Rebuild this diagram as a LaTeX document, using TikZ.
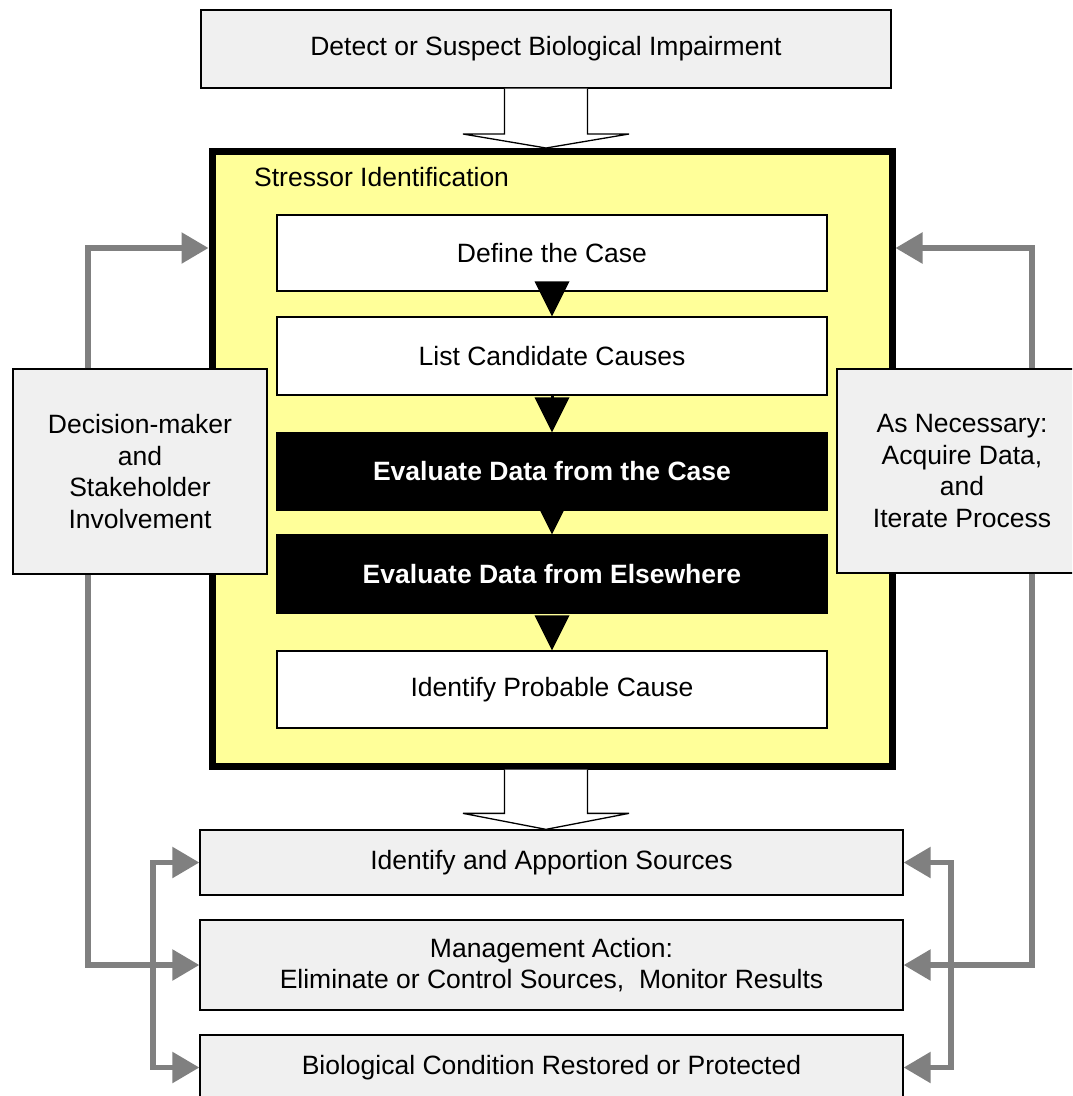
\documentclass[tikz,border=0pt]{standalone}
\usepackage{fontspec}
\setmainfont{Liberation Sans}
\usetikzlibrary{arrows.meta,calc}
\definecolor{boxgray}{RGB}{240,240,240}
\definecolor{siyellow}{RGB}{255,255,153}
\definecolor{conngray}{RGB}{128,128,128}
\begin{document}
\begin{tikzpicture}[x=1pt,y=-1pt,
  every node/.style={font=\fontsize{26.5}{31.8}\selectfont, inner sep=0pt, align=center},
  outerbox/.style={draw=black, line width=1.3pt, fill=boxgray, rectangle},
  stepbox/.style={draw=black, line width=1.3pt, fill=white, minimum width=550pt},
  darkbox/.style={draw=black, line width=1.3pt, fill=black, text=white, font=\fontsize{26.5}{31.8}\selectfont\bfseries, minimum width=550pt},
  garrow/.style={draw=conngray, line width=5.5pt, -{Triangle[length=27pt,width=30pt]}},
  gboth/.style={draw=conngray, line width=5.5pt, {Triangle[length=27pt,width=30pt]}-{Triangle[length=27pt,width=30pt]}},
  hollow/.style={draw=black, line width=1.3pt, fill=white, line join=miter},
  tri/.style={fill=black}
]
\path[use as bounding box, clip] (0,0) rectangle (1072,1096);
\fill[white] (0,0) rectangle (1072,1096);

% boxes
\node[outerbox, minimum width=690pt, minimum height=78pt] (top) at (546,49) {Detect or Suspect Biological Impairment};
\node[draw=black, line width=7pt, fill=siyellow, minimum width=680pt, minimum height=614.5pt] (si) at (552,458.75) {};
\node[anchor=base west] (silabel) at (254,186) {Stressor Identification};
\node[stepbox, minimum height=76pt] (define) at (552,253) {Define the Case};
\node[stepbox, minimum height=78pt] (list) at (552,356) {List Candidate Causes};
\node[darkbox, minimum height=77pt] (evcase) at (552,471.5) {Evaluate Data from the Case};
\node[darkbox, minimum height=78pt] (evelse) at (552,574) {Evaluate Data from Elsewhere};
\node[stepbox, minimum height=77pt] (prob) at (552,689.5) {Identify Probable Cause};
\node[outerbox, minimum width=703pt, minimum height=65pt] (sources) at (551.5,862.5) {Identify and Apportion Sources};
\node[outerbox, minimum width=703pt, minimum height=90pt] (mgmt) at (551.5,965) {Management Action:\\Eliminate or Control Sources,\ \ Monitor Results};
\node[outerbox, minimum width=703pt, minimum height=65pt] (bio) at (551.5,1067.5) {Biological Condition Restored or Protected};
\node[outerbox, minimum width=254pt, minimum height=205pt] (dm) at (140,471.5) {Decision-maker\\and\\Stakeholder\\Involvement};
\node[outerbox, minimum width=250pt, minimum height=204pt] (asnec) at (962,471) {As Necessary:\\Acquire Data,\\and\\Iterate Process};

% hollow block arrows
\draw[hollow] ($(top.south)+(-41.5,0)$) -- ($(si.north -| top.south)+(-41.5,-14)$) -- ++(-41.5,0) -- (si.north -| top.south) -- ++(83,-14) -- ++(-41.5,0) -- ($(top.south)+(41.5,0)$);
\draw[hollow] ($(si.south -| top.south)+(-41.5,0)$) -- ($(sources.north -| top.south)+(-41.5,-16)$) -- ++(-41.5,0) -- (sources.north -| top.south) -- ++(83,-16) -- ++(-41.5,0) -- ($(si.south -| top.south)+(41.5,0)$);

% black triangles between steps
\fill[tri] ($(list.north)+(-17.5,-35)$) -- ++(35,0) -- (list.north) -- cycle;
\draw[line width=3pt] (list.south) -- ($(evcase.north)+(0,-30)$);
\fill[tri] ($(evcase.north)+(-17.5,-35)$) -- ++(35,0) -- (evcase.north) -- cycle;
\fill[tri] ($(evelse.north)+(-17.5,-35)$) -- ++(35,0) -- (evelse.north) -- cycle;
\fill[tri] ($(prob.north)+(-17.5,-35)$) -- ++(35,0) -- (prob.north) -- cycle;

% gray connectors
\coordinate (lrail) at (88,248);
\coordinate (rrail) at (1032,248);
\coordinate (lbr) at (153,965);
\coordinate (rbr) at (951,965);
\draw[garrow] (dm.north -| lrail) |- (lrail -| si.west);
\draw[garrow] (dm.south -| lrail) |- (mgmt.west);
\draw[gboth] (sources.west) -| (lbr) |- (bio.west);
\draw[garrow] (asnec.north -| rrail) |- (rrail -| si.east);
\draw[garrow] (asnec.south -| rrail) |- (mgmt.east);
\draw[gboth] (sources.east) -| (rbr) |- (bio.east);
\end{tikzpicture}
\end{document}
